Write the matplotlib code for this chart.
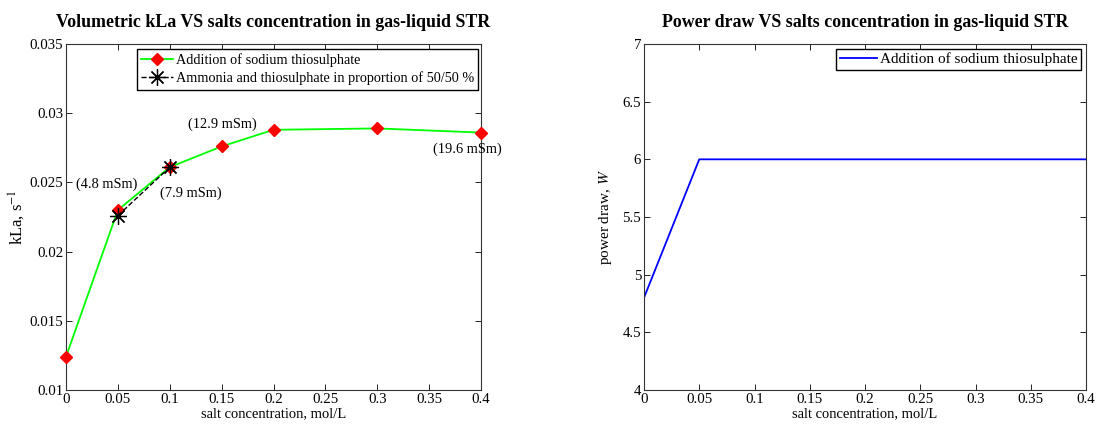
import numpy as np
import matplotlib
matplotlib.use("Agg")
import matplotlib.pyplot as plt
from matplotlib.ticker import FuncFormatter, MultipleLocator

plt.rcParams['font.family'] = ['Liberation Serif', 'DejaVu Serif']
plt.rcParams['mathtext.fontset'] = 'stix'

# data
salt_conc = [0, 0.05, 0.1, 0.15, 0.2, 0.3, 0.4]
kla_thio = [0.0124, 0.0230, 0.0261, 0.0276, 0.0288, 0.0289, 0.0286]
mix_conc = [0.05, 0.1]
kla_mix = [0.0226, 0.0261]
power_thio = [4.8, 6, 6, 6, 6, 6, 6]

notes = ["(4.8 mSm)", "(7.9 mSm)", "(12.9 mSm)", "(19.6 mSm)"]
notes_x = [0.0095, 0.0905, 0.1175, 0.3535]
notes_y = [0.0249, 0.0242, 0.0292, 0.0274]

fmt = FuncFormatter(lambda v, p: "%g" % round(v, 4))

W, H = 1097, 428
fig = plt.figure(figsize=(W / 100, H / 100), dpi=100)

ax1 = fig.add_axes([66 / W, 38 / H, 415 / W, 346 / H])
ax2 = fig.add_axes([644 / W, 38 / H, 442 / W, 346 / H])

# left chart
ax1.plot(salt_conc, kla_thio, color=(0, 1, 0), lw=1.3, marker='D',
         markersize=6, markerfacecolor='red', markeredgecolor='red',
         clip_on=False, zorder=3, label='Addition of sodium thiosulphate')
ax1.plot(mix_conc, kla_mix, color='black', lw=1, ls='--', marker=(8, 2, 0),
         markersize=12, markeredgewidth=0.9, clip_on=False, zorder=4,
         label='Ammonia and thiosulphate in proportion of 50/50 %')
for t, x, y in zip(notes, notes_x, notes_y):
    ax1.text(x, y, t, fontsize=10.4, va='center', ha='left', clip_on=False)
ax1.set_xlim(0, 0.4)
ax1.set_ylim(0.01, 0.035)
ax1.yaxis.set_major_locator(MultipleLocator(0.005))
ax1.set_title('Volumetric kLa VS salts concentration in gas-liquid STR',
              fontsize=12.9, fontweight='bold', pad=12)
ax1.set_xlabel('salt concentration, mol/L', fontsize=10.5, labelpad=1)
ax1.set_ylabel(r'kLa, s$^{-1}$', fontsize=12, labelpad=2)
ax1.legend(loc='upper right', bbox_to_anchor=(1.0, 0.995), fontsize=10.3,
           frameon=True, fancybox=False, edgecolor='black', framealpha=1,
           handlelength=2.2, handletextpad=0.2, borderpad=0.3,
           labelspacing=0.35, borderaxespad=0.2)

# right chart
ax2.plot(salt_conc, power_thio, color='blue', lw=1.3,
         label='Addition of sodium thiosulphate')
ax2.set_xlim(0, 0.4)
ax2.set_ylim(4, 7)
ax2.yaxis.set_major_locator(MultipleLocator(0.5))
ax2.set_title('Power draw VS salts concentration in gas-liquid STR',
              fontsize=12.9, fontweight='bold', pad=12)
ax2.set_xlabel('salt concentration, mol/L', fontsize=10.5, labelpad=1)
ax2.set_ylabel(r'power draw, $W$', fontsize=11, labelpad=6)
ax2.legend(loc='upper right', fontsize=11, frameon=True, fancybox=False,
           edgecolor='black', framealpha=1, handlelength=2.4,
           handletextpad=0.2, borderpad=0.25, borderaxespad=0.3)

for ax in (ax1, ax2):
    ax.xaxis.set_major_locator(MultipleLocator(0.05))
    ax.xaxis.set_major_formatter(fmt)
    ax.yaxis.set_major_formatter(fmt)
    ax.tick_params(direction='in', top=True, right=True, labelsize=10.7,
                   length=4, width=0.6, pad=2)
    for s in ax.spines.values():
        s.set_linewidth(0.8)
        s.set_color('#333333')

fig.savefig('out.png', dpi=100)
